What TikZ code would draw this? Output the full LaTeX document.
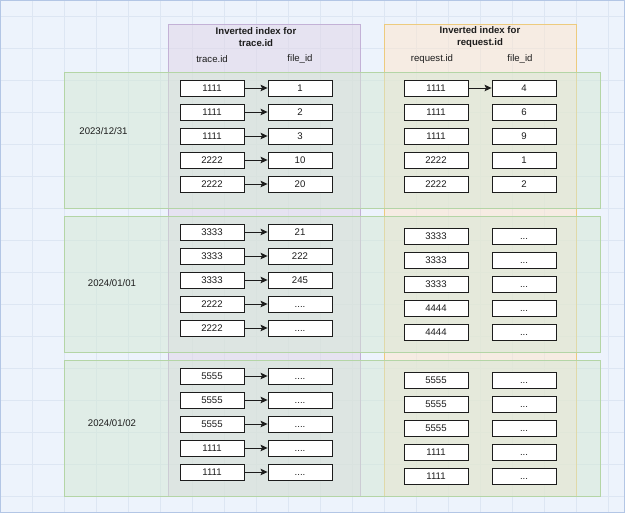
\documentclass[tikz,border=0pt]{standalone}
\usepackage{fontspec}
\setmainfont{Liberation Sans}
\usetikzlibrary{arrows.meta}

\definecolor{canvas}{HTML}{EDF3FC}
\definecolor{gridline}{HTML}{DDE6F3}
\definecolor{frameline}{HTML}{B3C6E5}
\definecolor{lilacfill}{HTML}{E1D5E7}
\definecolor{lilacline}{HTML}{C3B1D6}
\definecolor{peachfill}{HTML}{FFE6CC}
\definecolor{peachline}{HTML}{EDCB7E}
\definecolor{mintfill}{HTML}{D5E8D4}
\definecolor{mintline}{HTML}{B4D5A6}
\definecolor{ink}{HTML}{1C1C1C}

% placeholder values for postings not spelled out
\newcommand\morefour{....}
\newcommand\morethree{...}

\tikzset{
  panel/.style={line width=0.8pt, fill opacity=0.5},
  entry/.style={draw=ink, fill=white, line width=0.9pt, minimum width=64pt,
    minimum height=16pt, inner sep=0pt, text=ink, text height=7pt, text depth=0pt},
  label/.style={text=ink, inner sep=0pt, align=center},
  link/.style={draw=ink, line width=0.8pt,
    -{Stealth[length=7pt,width=6.5pt,inset=1.5pt]}},
}

\begin{document}
\begin{tikzpicture}[x=1pt, y=-1pt, font=\fontsize{9.6}{12}\selectfont]
\useasboundingbox (0,0) rectangle (625,513);

% canvas with grid
\fill[canvas] (0,0) rectangle (625,513);
\foreach \gx in {32,64,...,608} \draw[gridline, line width=0.6pt] (\gx,0) -- (\gx,513);
\foreach \gy in {16,48,...,496} \draw[gridline, line width=0.6pt] (0,\gy) -- (625,\gy);
\draw[frameline, line width=1.3pt] (0.65,0.65) rectangle (624.35,512.35);

% index columns
\draw[panel, draw=lilacline, fill=lilacfill] (168,24) rectangle (360,496);
\draw[panel, draw=peachline, fill=peachfill] (384,24) rectangle (576,496);

% one band per day
\draw[panel, draw=mintline, fill=mintfill] (64,72) rectangle (600,208);
\draw[panel, draw=mintline, fill=mintfill] (64,216) rectangle (600,352);
\draw[panel, draw=mintline, fill=mintfill] (64,360) rectangle (600,496);

% headings
\node[label, font=\fontsize{9.6}{12}\selectfont\bfseries] (ttitle) at (256,37.5) {Inverted index for\\trace.id};
\node[label, font=\fontsize{9.6}{12}\selectfont\bfseries] (rtitle) at (480,37.5) {Inverted index for\\request.id};
\node[label] (thkey) at (212,59) {trace.id};
\node[label] (thval) at (300,59) {file\_id};
\node[label] (rhkey) at (432,59) {request.id};
\node[label] (rhval) at (520,59) {file\_id};

% day labels
\node[label] (day1) at (103.5,131) {2023/12/31};
\node[label] (day2) at (112,283) {2024/01/01};
\node[label] (day3) at (112,423) {2024/01/02};

% trace.id postings
\foreach \ry/\k/\v [count=\i] in {88/1111/1, 112/1111/2, 136/1111/3, 160/2222/10, 184/2222/20} {
  \node[entry] (ta\i k) at (212,\ry) {\k};
  \node[entry] (ta\i v) at (300,\ry) {\v};
  \draw[link] (ta\i k) -- (ta\i v);
}
\foreach \ry/\k/\v [count=\i] in {232/3333/21, 256/3333/222, 280/3333/245, 304/2222/\morefour, 328/2222/\morefour} {
  \node[entry] (tb\i k) at (212,\ry) {\k};
  \node[entry] (tb\i v) at (300,\ry) {\v};
  \draw[link] (tb\i k) -- (tb\i v);
}
\foreach \ry/\k [count=\i] in {376/5555, 400/5555, 424/5555, 448/1111, 472/1111} {
  \node[entry] (tc\i k) at (212,\ry) {\k};
  \node[entry] (tc\i v) at (300,\ry) {\morefour};
  \draw[link] (tc\i k) -- (tc\i v);
}

% request.id postings
\foreach \ry/\k/\v [count=\i] in {88/1111/4, 112/1111/6, 136/1111/9, 160/2222/1, 184/2222/2} {
  \node[entry] (ra\i k) at (436,\ry) {\k};
  \node[entry] (ra\i v) at (524,\ry) {\v};
}
\draw[link] (ra1k) -- (ra1v);
\foreach \ry/\k [count=\i] in {236/3333, 260/3333, 284/3333, 308/4444, 332/4444} {
  \node[entry] (rb\i k) at (436,\ry) {\k};
  \node[entry] (rb\i v) at (524,\ry) {\morethree};
}
\foreach \ry/\k [count=\i] in {380/5555, 404/5555, 428/5555, 452/1111, 476/1111} {
  \node[entry] (rc\i k) at (436,\ry) {\k};
  \node[entry] (rc\i v) at (524,\ry) {\morethree};
}
\end{tikzpicture}
\end{document}
